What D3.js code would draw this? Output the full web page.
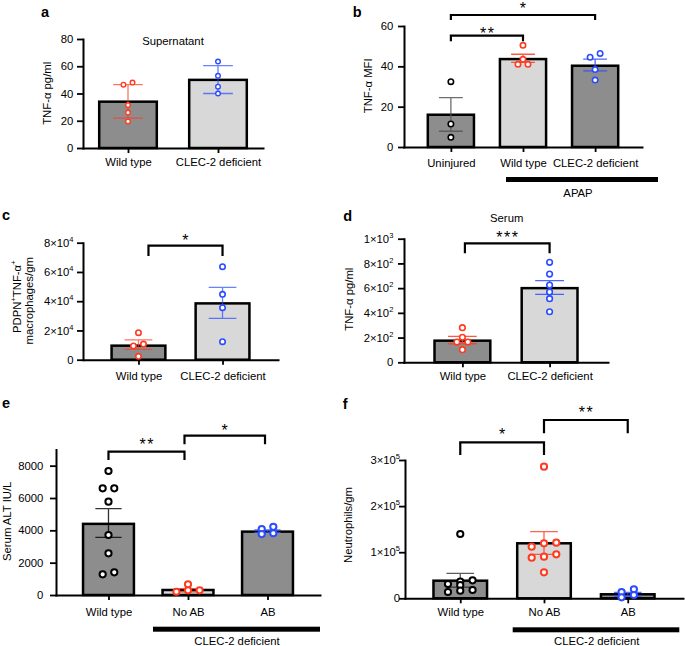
<!DOCTYPE html>
<html><head><meta charset="utf-8">
<script src="https://cdn.jsdelivr.net/npm/d3@7"></script>
<style>body{margin:0;background:#fff} svg{display:block} text{font-family:'Liberation Sans',Arial,Helvetica,sans-serif;}</style>
</head><body><svg id="chart" width="685" height="646"></svg>
<script>
// ================= DATA =================
// a: Supernatant TNF-alpha
const aCategories = ["Wild type", "CLEC-2 deficient"];
const aMeans = [34, 50];
const aPoints = [[48, 46.5, 31.5, 26, 19.5], [63.5, 53, 45, 40]];
const aErrLow = [22, 40];
const aErrHigh = [46.5, 60.5];
const aTicks = [0, 20, 40, 60, 80];
const aTickLabels = ["0", "20", "40", "60", "80"];

// b: TNF-alpha MFI
const bCategories = ["Uninjured", "Wild type", "CLEC-2 deficient"];
const bMeans = [16, 43.6, 40.3];
const bPoints = [[32.4, 11.4, 4.8], [50.4, 43.5, 41, 41], [46.4, 44.5, 38.4, 33.2]];
const bErrLow = [7.8, 42, 37.7];
const bErrHigh = [24.5, 46, 43.6];
const bTicks = [0, 20, 40, 60];
const bTickLabels = ["0", "20", "40", "60"];
const bComparisons = [[0, 1, "**"], [0, 2, "*"]];

// c: PDPN+TNF-alpha+ macrophages/gm
const cCategories = ["Wild type", "CLEC-2 deficient"];
const cMeans = [9600, 38500];
const cPoints = [[18500, 10700, 9400, 2300], [63600, 44700, 35600, 12300]];
const cErrLow = [7100, 28300];
const cErrHigh = [13500, 49500];
const cTicks = [0, 20000, 40000, 60000, 80000];
const cTickLabels = ["0", "2×10^4", "4×10^4", "6×10^4", "8×10^4"];
const cComparisons = [[0, 1, "*"]];

// d: Serum TNF-alpha
const dCategories = ["Wild type", "CLEC-2 deficient"];
const dMeans = [175, 600];
const dPoints = [[280, 202, 164, 164, 102], [809, 714, 625, 569, 515, 409]];
const dErrLow = [150, 550];
const dErrHigh = [210, 660];
const dTicks = [0, 200, 400, 600, 800, 1000];
const dTickLabels = ["0", "2×10^2", "4×10^2", "6×10^2", "8×10^2", "1×10^3"];
const dComparisons = [[0, 1, "***"]];

// e: Serum ALT
const eCategories = ["Wild type", "No AB", "AB"];
const eMeans = [4400, 310, 3920];
const ePoints = [[7670, 6600, 6600, 5770, 3710, 2580, 1280, 1400], [660, 200, 290, 290], [3770, 4080, 4220, 3820]];
const eErrLow = [3570, 200, 3870];
const eErrHigh = [5340, 400, 4030];
const eTicks = [0, 2000, 4000, 6000, 8000];
const eTickLabels = ["0", "2000", "4000", "6000", "8000"];
const eComparisons = [[0, 1, "**"], [1, 2, "*"]];

// f: Neutrophils/gm
const fCategories = ["Wild type", "No AB", "AB"];
const fMeans = [38200, 119300, 8700];
const fPoints = [[139500, 31000, 28500, 36000, 39000, 13700, 16500, 18000],
                 [285500, 120600, 119300, 112000, 95400, 88100, 90200, 56400],
                 [19500, 2200, 13700, 7200]];
const fErrLow = [24000, 95400, 5000];
const fErrHigh = [54200, 144500, 13000];
const fTicks = [0, 100000, 200000, 300000];
const fTickLabels = ["0", "1×10^5", "2×10^5", "3×10^5"];
const fComparisons = [[0, 1, "*"], [1, 2, "**"]];

// ================= STYLE / LAYOUT =================
const RED = "#ff3b1f", BLUE = "#2b4cff", BLACK = "#000000";
const DARK = "#8d8d8d", LIGHT = "#d8d8d8";
const FONT = "'Liberation Sans', Arial, Helvetica, sans-serif";
const FS = 11.3;
const svg = d3.select("#chart");

function supLabel(sel, label) {
  sel.text(null);
  const parts = label.split("^");
  sel.append("tspan").text(parts[0]);
  if (parts.length > 1) sel.append("tspan").attr("font-size", 7.5).attr("dy", -5).text(parts[1]);
}

function layoutPoints(vals, y, thr, spacing) {
  const pts = vals.map(v => ({ v, py: y(v) })).sort((a, b) => a.py - b.py);
  const rows = [];
  pts.forEach(p => {
    const row = rows[rows.length - 1];
    if (row && Math.abs(p.py - row[0].py) < thr) row.push(p); else rows.push([p]);
  });
  rows.forEach(row => {
    row.sort((a, b) => a.v - b.v);
    row.forEach((p, i) => { p.dx = (i - (row.length - 1) / 2) * spacing; });
  });
  return pts;
}

function drawPanel(P) {
  const g = svg.append("g");
  const x = d3.scalePoint().domain(P.categories).range([P.x0, P.x1]).padding(P.pad);
  const step = x.step();
  const y = d3.scaleLinear().domain([0, P.yMax]).range([P.yBottom, P.yTop]);
  const bw = step * 0.64, cw = step * 0.33;
  const rows = P.categories.map((c, i) => ({ c, i, mean: P.means[i], lo: P.errLow[i], hi: P.errHigh[i], pts: P.points[i] }));

  // bars
  g.selectAll("rect.bar").data(rows).join("rect").attr("class", "bar")
    .attr("x", d => x(d.c) - bw / 2).attr("y", d => y(d.mean))
    .attr("width", bw).attr("height", d => y(0) - y(d.mean))
    .attr("fill", d => P.fills[d.i]).attr("stroke", "#000").attr("stroke-width", 2.5);

  // axes
  const yAxis = d3.axisLeft(y).tickValues(P.ticks).tickSize(6).tickSizeOuter(0)
    .tickPadding(P.tickGap - 6).tickFormat(() => "");
  const ya = g.append("g").attr("transform", `translate(${P.x0},0)`).call(yAxis);
  ya.selectAll(".tick text").each(function (d, i) { supLabel(d3.select(this), P.tickLabels[i]); });
  const xAxis = d3.axisBottom(x).tickSize(5).tickSizeOuter(0).tickFormat(() => "");
  const xa = g.append("g").attr("transform", `translate(0,${P.yBottom})`).call(xAxis);
  xa.selectAll(".tick text").each(function (d, i) {
    d3.select(this).text(P.categories[i]).attr("y", P.xLabelY - P.yBottom).attr("dy", null);
  });
  [ya, xa].forEach(a => {
    a.attr("font-family", FONT).attr("font-size", FS);
    a.select(".domain").attr("stroke-width", 2).attr("stroke-linecap", "square");
    a.selectAll(".tick line").attr("stroke-width", 1.8);
    a.selectAll("text").attr("fill", "#000");
  });

  // error bars
  g.selectAll("path.err").data(rows).join("path").attr("class", "err")
    .attr("d", d => {
      const cx = x(d.c), yl = y(d.lo), yh = y(d.hi);
      return `M${cx - cw / 2},${yl}H${cx + cw / 2}M${cx},${yl}V${yh}M${cx - cw / 2},${yh}H${cx + cw / 2}`;
    })
    .attr("fill", "none").attr("stroke", d => P.errColors[d.i])
    .attr("stroke-opacity", P.errOpacity).attr("stroke-width", 1.3);

  // points
  rows.forEach(d => {
    const laid = layoutPoints(d.pts, y, P.thr, P.spacing);
    g.append("g").selectAll("circle").data(laid).join("circle")
      .attr("cx", p => x(d.c) + p.dx).attr("cy", p => p.py).attr("r", P.r)
      .attr("fill", "#fff").attr("stroke", P.pointColors[d.i]).attr("stroke-width", P.sw);
  });

  // significance brackets
  (P.comparisons || []).forEach((cmp, k) => {
    const L = P.bracketLayout[k];
    const x1 = x(P.categories[cmp[0]]) + (L.dx1 || 0), x2 = x(P.categories[cmp[1]]) + (L.dx2 || 0);
    g.append("path").attr("d", `M${x1},${L.y + L.drop}V${L.y}H${x2}V${L.y + L.drop}`)
      .attr("fill", "none").attr("stroke", "#000").attr("stroke-width", 2.2);
    g.append("text").attr("x", (x1 + x2) / 2 + 0.7).attr("y", L.y + L.starDy)
      .attr("text-anchor", "middle").attr("font-size", 16).attr("letter-spacing", 1.5).text(cmp[2]);
  });

  // group bar
  if (P.group) {
    const G = P.group;
    g.append("rect").attr("x", G.x1).attr("y", G.y).attr("width", G.x2 - G.x1).attr("height", 5).attr("fill", "#000");
    g.append("text").attr("x", G.tx).attr("y", G.ty).attr("text-anchor", "middle").attr("font-size", FS).text(G.text);
  }

  // subtitle
  if (P.subtitle) {
    g.append("text").attr("x", P.subtitle.x).attr("y", P.subtitle.y).attr("text-anchor", "middle")
      .attr("font-size", FS).text(P.subtitle.text);
  }

  // y title(s)
  P.yTitles.forEach(t => {
    const tx = g.append("text").attr("transform", `translate(${t.x},${t.y}) rotate(-90)`)
      .attr("text-anchor", "middle").attr("font-size", FS);
    t.parts.forEach(pt => {
      if (pt.sup) tx.append("tspan").attr("font-size", 7.5).attr("dy", -5).text(pt.t);
      else tx.append("tspan").attr("dy", pt.after ? 5 : null).text(pt.t);
    });
  });

  // panel letter
  g.append("text").attr("x", P.letter.x).attr("y", P.letter.y).attr("font-size", 14.5)
    .attr("font-weight", "bold").text(P.letter.t);
}

drawPanel({
  categories: aCategories, means: aMeans, points: aPoints, errLow: aErrLow, errHigh: aErrHigh,
  ticks: aTicks, tickLabels: aTickLabels,
  x0: 83, x1: 263, pad: 0.5, yTop: 39, yBottom: 148, yMax: 80, tickGap: 9.7, xLabelY: 165.5,
  fills: [DARK, LIGHT], pointColors: [RED, BLUE], errColors: [RED, BLUE], errOpacity: 0.7,
  r: 2.3, sw: 1.4, thr: 3.5, spacing: 9,
  subtitle: { text: "Supernatant", x: 173, y: 44.5 },
  yTitles: [{ x: 51.4, y: 93.3, parts: [{ t: "TNF-α pg/ml" }] }],
  letter: { t: "a", x: 41, y: 16.7 }
});

drawPanel({
  categories: bCategories, means: bMeans, points: bPoints, errLow: bErrLow, errHigh: bErrHigh,
  ticks: bTicks, tickLabels: bTickLabels,
  x0: 404, x1: 642, pad: 0.65, yTop: 26, yBottom: 147, yMax: 60, tickGap: 10.7, xLabelY: 167.4,
  fills: [DARK, LIGHT, DARK], pointColors: [BLACK, RED, BLUE], errColors: ["#555", RED, BLUE], errOpacity: 0.85,
  r: 2.7, sw: 1.6, thr: 4.2, spacing: 10,
  comparisons: bComparisons,
  bracketLayout: [{ y: 35.7, drop: 5.6, starDy: 3 }, { y: 15, drop: 5, starDy: -1 }],
  group: { x1: 506, x2: 658, y: 177, text: "APAP", tx: 578, ty: 196.5 },
  yTitles: [{ x: 371.5, y: 85.8, parts: [{ t: "TNF-α MFI" }] }],
  letter: { t: "b", x: 352.7, y: 16.7 }
});

drawPanel({
  categories: cCategories, means: cMeans, points: cPoints, errLow: cErrLow, errHigh: cErrHigh,
  ticks: cTicks, tickLabels: cTickLabels,
  x0: 83, x1: 278, pad: 0.66, yTop: 242.7, yBottom: 359.7, yMax: 80000, tickGap: 9.5, xLabelY: 379.8,
  fills: [DARK, LIGHT], pointColors: [RED, BLUE], errColors: [RED, BLUE], errOpacity: 0.7,
  r: 2.7, sw: 1.6, thr: 4.2, spacing: 10,
  comparisons: cComparisons,
  bracketLayout: [{ y: 245.7, drop: 10.3, starDy: 0.2, dx1: 10 }],
  yTitles: [
    { x: 20.5, y: 296.7, parts: [{ t: "PDPN" }, { t: "+", sup: true }, { t: "TNF-α", after: true }, { t: "+", sup: true }] },
    { x: 32.5, y: 300.8, parts: [{ t: "macrophages/gm" }] }
  ],
  letter: { t: "c", x: 2, y: 220 }
});

drawPanel({
  categories: dCategories, means: dMeans, points: dPoints, errLow: dErrLow, errHigh: dErrHigh,
  ticks: dTicks, tickLabels: dTickLabels,
  x0: 404, x1: 608, pad: 0.67, yTop: 238.7, yBottom: 362.3, yMax: 1000, tickGap: 10.7, xLabelY: 379.8,
  fills: [DARK, LIGHT], pointColors: [RED, BLUE], errColors: [RED, BLUE], errOpacity: 0.85,
  r: 2.8, sw: 1.6, thr: 4.5, spacing: 11,
  comparisons: dComparisons,
  bracketLayout: [{ y: 243.3, drop: 10, starDy: -0.8, dx1: 2.5 }],
  subtitle: { text: "Serum", x: 506.7, y: 222.3 },
  yTitles: [{ x: 353, y: 299.2, parts: [{ t: "TNF-α pg/ml" }] }],
  letter: { t: "d", x: 343.3, y: 220.7 }
});

drawPanel({
  categories: eCategories, means: eMeans, points: ePoints, errLow: eErrLow, errHigh: eErrHigh,
  ticks: eTicks, tickLabels: eTickLabels,
  x0: 56, x1: 320, pad: 0.66, yTop: 449.5, yBottom: 595, yMax: 9000, tickGap: 12.7, xLabelY: 616.4,
  fills: [DARK, LIGHT, DARK], pointColors: [BLACK, RED, BLUE], errColors: [BLACK, RED, BLUE], errOpacity: 0.8,
  r: 3.1, sw: 2, thr: 4.8, spacing: 11.6,
  comparisons: eComparisons,
  bracketLayout: [{ y: 451.7, drop: 8.3, starDy: -1.8, dx2: -3.5 }, { y: 435.7, drop: 8.6, starDy: 0.2, dx1: -3.5, dx2: -2.5 }],
  group: { x1: 153, x2: 320, y: 626.7, text: "CLEC-2 deficient", tx: 237, ty: 644.8 },
  yTitles: [{ x: 10.5, y: 521.3, parts: [{ t: "Serum ALT IU/L" }] }],
  letter: { t: "e", x: 2, y: 408.3 }
});

drawPanel({
  categories: fCategories, means: fMeans, points: fPoints, errLow: fErrLow, errHigh: fErrHigh,
  ticks: fTicks, tickLabels: fTickLabels,
  x0: 405, x1: 683, pad: 0.66, yTop: 460, yBottom: 598.3, yMax: 300000, tickGap: 5, xLabelY: 616.4,
  fills: [DARK, LIGHT, DARK], pointColors: [BLACK, RED, BLUE], errColors: ["#333", RED, BLUE], errOpacity: 0.8,
  r: 3.1, sw: 2, thr: 4.8, spacing: 12.3,
  comparisons: fComparisons,
  bracketLayout: [{ y: 442.3, drop: 12.7, starDy: -2.4 }, { y: 420, drop: 13.3, starDy: -2.5 }],
  group: { x1: 512.7, x2: 679.3, y: 627.3, text: "CLEC-2 deficient", tx: 596.7, ty: 644.8 },
  yTitles: [{ x: 351.5, y: 525, parts: [{ t: "Neutrophils/gm" }] }],
  letter: { t: "f", x: 342.7, y: 409 }
});
</script>
</body></html>
